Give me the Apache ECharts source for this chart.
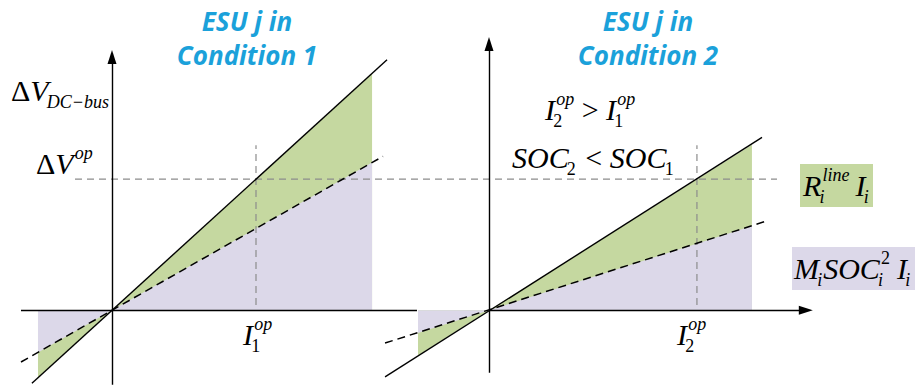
<!DOCTYPE html>
<html>
<head>
<meta charset="utf-8">
<title>ESU droop characteristics</title>
<script src="https://cdn.jsdelivr.net/npm/echarts@6.0.0/dist/echarts.min.js"></script>
<style>
  html, body { margin: 0; padding: 0; background: #fff; }
  #chart { width: 915px; height: 389px; }
</style>
</head>
<body>
<div id="chart"></div>
<script>
// Operating point (per unit): current and DC-bus voltage deviation
const I1op = 1.0;
const I2op = 1.444;
const dVop = 1.0;

// Condition 1: line-resistance term R_i^line I_i (solid) and M_i SOC_i^2 I_i (dashed)
const c1Solid  = [[-0.556, -0.556], [1.91, 1.91]];
const c1Dashed = [[-0.632, -0.394], [1.882, 1.174]];
const c1FillR  = [[-0.514, -0.514], [0, 0], [1.806, 1.806]];
const c1FillM  = [[-0.514, -0.321], [0, 0], [1.806, 1.127]];

// Condition 2: larger current, lower state of charge
const c2Solid  = [[-0.722, -0.508], [1.896, 1.318]];
const c2Dashed = [[-0.722, -0.25], [1.931, 0.682]];
const c2FillR  = [[-0.493, -0.344], [0, 0], [1.826, 1.262]];
const c2FillM  = [[-0.493, -0.173], [0, 0], [1.826, 0.643]];

// Operating-point guide lines
const dVopGuide = [[-0.257, dVop], [4.618, dVop]];
const I1opGuide = [[I1op, 0.04], [I1op, 1.258]];
const I2opGuide = [[I2op, 0.04], [I2op, 1.258]];

// Drawn axis spans (I axis, ΔV axis) of each panel
const p1IAxis = [-0.632, 2.118], p1VAxis = [-0.568, 1.932];
const p2IAxis = [0, 2.2],        p2VAxis = [-0.477, 2.03];

// Coordinate windows of the two panels
const p1X = [-0.7, 4.7], p1Y = [-0.6, 2.0];
const p2X = [-0.8, 2.4], p2Y = [-0.6, 2.1];

const GREEN = '#c5d8a0';
const PURPLE = '#dcd8e9';
const TITLE = '#1ba1da';
const KX = 144, KY = 132;            // pixels per unit
const ORIGIN1 = [112, 312], ORIGIN2 = [489, 312];

function gridFor(o, xr, yr) {
  return {
    left: o[0] + xr[0] * KX,
    top: o[1] - yr[1] * KY,
    width: (xr[1] - xr[0]) * KX,
    height: (yr[1] - yr[0]) * KY,
    containLabel: false
  };
}

function axis(gi, range) {
  return { gridIndex: gi, type: 'value', min: range[0], max: range[1], show: false };
}

function fill(gi, data, color, z) {
  return {
    type: 'line', xAxisIndex: gi, yAxisIndex: gi, data, z, clip: false, silent: true,
    showSymbol: false, symbol: 'none',
    lineStyle: { width: 0 }, areaStyle: { color, opacity: 1 }
  };
}

function line(gi, data, color, width, dash, z) {
  return {
    type: 'line', xAxisIndex: gi, yAxisIndex: gi, data, z, clip: false, silent: true,
    showSymbol: false, symbol: 'none',
    lineStyle: { color, width, type: dash || 'solid' }
  };
}

// Coordinate axes (with arrow heads) drawn as mark lines
function axesOf(gi, iSpan, vSpan, iArrow) {
  const end = (c, arrow) => ({ coord: c, symbol: arrow ? 'triangle' : 'none', symbolSize: [9, 14] });
  return {
    type: 'line', xAxisIndex: gi, yAxisIndex: gi, data: [], z: 6, silent: true,
    markLine: {
      silent: true, animation: false, label: { show: false },
      emphasis: { disabled: true },
      lineStyle: { color: '#000', width: 1.4, type: 'solid' },
      data: [
        [end([iSpan[0], 0], false), end([iSpan[1], 0], iArrow)],
        [end([0, vSpan[0]], false), end([0, vSpan[1]], true)]
      ]
    }
  };
}

// Text with sub/superscripts laid out as separate text pieces
const mctx = document.createElement('canvas').getContext('2d');
function textWidth(t, font) { mctx.font = font; return mctx.measureText(t).width; }
const SERIF = '"Liberation Serif", "Times New Roman", serif';

function mathText(x, baseline, runs, size) {
  const els = [];
  const small = Math.round(size * 0.6);
  let cx = x;
  const put = (t, italic, sz, px, base) => {
    const font = (italic ? 'italic ' : '') + sz + 'px ' + SERIF;
    els.push({
      type: 'text', x: px, y: base - sz * 0.33, silent: true,
      style: { text: t, font, fill: '#000', textAlign: 'left', textVerticalAlign: 'middle', lineHeight: Math.round(sz * 0.85) }
    });
    return textWidth(t, font);
  };
  for (const r of runs) {
    const wb = put(r.t, !!r.i, size, cx, baseline);
    cx += wb;
    let ws = 0;
    if (r.sup) {
      const it = !/^[0-9]+$/.test(r.sup);
      const shift = r.i ? size * 0.04 : 0;
      ws = Math.max(ws, put(r.sup, it, small, cx + shift, baseline - size * 0.46) + shift);
    }
    if (r.sub) {
      const it = !/^[0-9]+$/.test(r.sub);
      const shift = r.i ? -size * 0.06 : 0;
      ws = Math.max(ws, put(r.sub, it, small, cx + shift, baseline + size * 0.26) + shift);
    }
    cx += ws + (r.gap || 0);
  }
  return els;
}

const TFONT = 'italic bold 26px "Open Sans"';
const S = 30;
const graphics = [].concat(
  // legend swatches
  [{ type: 'rect', shape: { x: 800, y: 164, width: 73, height: 43 }, style: { fill: GREEN }, silent: true },
   { type: 'rect', shape: { x: 792, y: 247, width: 130, height: 43 }, style: { fill: PURPLE }, silent: true }],
  // panel titles
  [{ type: 'text', x: 247, y: 21, style: { text: 'ESU j in', font: TFONT, fill: TITLE, textAlign: 'center', textVerticalAlign: 'middle' } },
   { type: 'text', x: 247, y: 55, style: { text: 'Condition 1', font: TFONT, fill: TITLE, textAlign: 'center', textVerticalAlign: 'middle' } },
   { type: 'text', x: 648, y: 21, style: { text: 'ESU j in', font: TFONT, fill: TITLE, textAlign: 'center', textVerticalAlign: 'middle' } },
   { type: 'text', x: 648, y: 55, style: { text: 'Condition 2', font: TFONT, fill: TITLE, textAlign: 'center', textVerticalAlign: 'middle' } }],
  mathText(11, 100, [{ t: 'Δ' }, { t: 'V', i: 1, sub: 'DC−bus' }], S),
  mathText(36, 173, [{ t: 'Δ' }, { t: 'V', i: 1, sup: 'op' }], S),
  mathText(243, 344, [{ t: 'I', i: 1, sup: 'op', sub: '1' }], S),
  mathText(545, 119, [{ t: 'I', i: 1, sup: 'op', sub: '2' }, { t: ' > ' }, { t: 'I', i: 1, sup: 'op', sub: '1' }], S),
  mathText(512, 167, [{ t: 'SOC', i: 1, sub: '2', gap: 2 }, { t: ' < ' }, { t: 'SOC', i: 1, sub: '1' }], S),
  mathText(677, 344, [{ t: 'I', i: 1, sup: 'op', sub: '2' }], S),
  mathText(803, 195, [{ t: 'R', i: 1, sup: 'line', sub: 'i', gap: 6 }, { t: 'I', i: 1, sub: 'i' }], S),
  mathText(794, 278, [{ t: 'M', i: 1, sub: 'i', gap: 1 }, { t: 'SOC', i: 1, sup: '2', sub: 'i', gap: 7 }, { t: 'I', i: 1, sub: 'i' }], S)
);

const chart = echarts.init(document.getElementById('chart'), null, { renderer: 'svg' });
chart.setOption({
  animation: false,
  backgroundColor: '#fff',
  grid: [gridFor(ORIGIN1, p1X, p1Y), gridFor(ORIGIN2, p2X, p2Y)],
  xAxis: [axis(0, p1X), axis(1, p2X)],
  yAxis: [axis(0, p1Y), axis(1, p2Y)],
  series: [
    fill(0, c1FillR, GREEN, 1),
    fill(0, c1FillM, PURPLE, 2),
    line(0, dVopGuide, '#8c8c8c', 1.2, [7, 5], 3),
    line(0, I1opGuide, '#8c8c8c', 1.2, [7, 5], 3),
    line(0, c1Dashed, '#000', 1.5, [8, 5], 4),
    line(0, c1Solid, '#000', 1.4, null, 4),
    axesOf(0, p1IAxis, p1VAxis, false),
    fill(1, c2FillR, GREEN, 1),
    fill(1, c2FillM, PURPLE, 2),
    line(1, I2opGuide, '#8c8c8c', 1.2, [7, 5], 3),
    line(1, c2Dashed, '#000', 1.5, [8, 5], 4),
    line(1, c2Solid, '#000', 1.4, null, 4),
    axesOf(1, p2IAxis, p2VAxis, true)
  ],
  graphic: graphics
});
</script>
</body>
</html>
